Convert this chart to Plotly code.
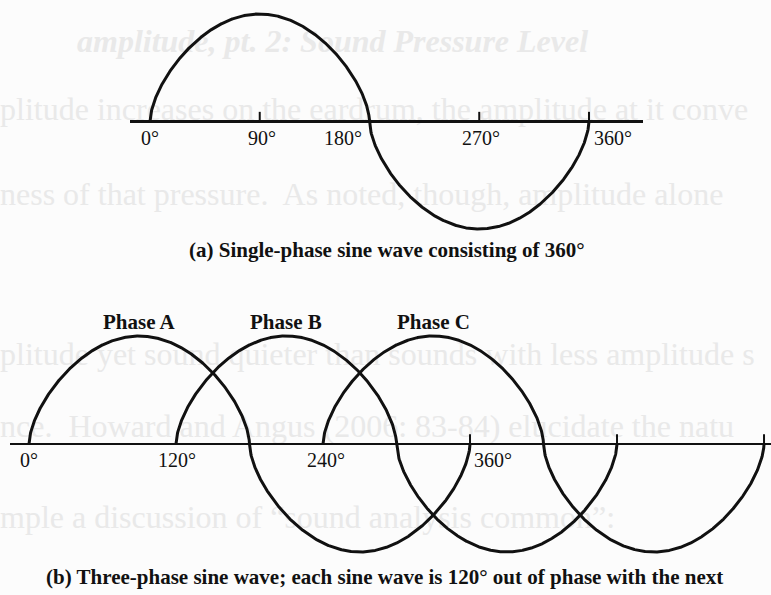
import numpy as np
import plotly.graph_objects as go

W, H = 771, 595

# ---------------- data ----------------
# Panel (a): single-phase wave, one 360 degree cycle
a_cycle_start = 0
a_cycle_span = 360
a_label_text = ["0°", "90°", "180°", "270°", "360°"]
a_label_deg = [0, 90, 180, 270, 360]
a_tick_deg = [90, 270, 360]
a_caption = "(a) Single-phase sine wave consisting of 360°"

# Panel (b): three-phase wave, phases 120 degrees apart
b_phase_names = ["Phase A", "Phase B", "Phase C"]
b_phase_offset = [0, 120, 240]
b_cycle_span = 360
b_label_text = ["0°", "120°", "240°", "360°"]
b_label_deg = [0, 120, 240, 360]
b_tick_deg = [360, 480, 600]
b_caption = "(b) Three-phase sine wave; each sine wave is 120° out of phase with the next"

# faint show-through text of the scanned page
bg_header = "amplitude, pt. 2: Sound Pressure Level"
bg_lines = [
    "plitude increases on the eardrum, the amplitude at it conve",
    "ness of that pressure.  As noted, though, amplitude alone",
    "plitude yet sound quieter than sounds with less amplitude s",
    "nce.  Howard and Angus (2006: 83-84) elucidate the natu",
    "mple a discussion of \u201csound analysis common\u201d:",
]
bg_line_y = [112, 197, 357, 429, 520]

# ---------------- styling ----------------
INK = "#111111"
FAINT = "#e9e9e9"
SERIF = "Liberation Serif, Times New Roman, serif"
CURVE_W = 3
AXIS_W = 2.5
ROUNDNESS = 0.6   # exponent giving the drawing's full, rounded half-waves

fig = go.Figure()

# background show-through text (full-page axis, drawn first => underneath)
fig.add_trace(go.Scatter(
    x=[77], y=[44], mode="text", text=[bg_header], textposition="middle right",
    textfont=dict(family=SERIF, size=32, color=FAINT, style="italic", weight="bold"),
    xaxis="x", yaxis="y", hoverinfo="skip", showlegend=False,
))
fig.add_trace(go.Scatter(
    x=[0] * len(bg_lines), y=bg_line_y, mode="text", text=bg_lines,
    textposition="middle right",
    textfont=dict(family=SERIF, size=32, color=FAINT),
    xaxis="x", yaxis="y", hoverinfo="skip", showlegend=False,
))


def wave(start, span):
    deg = np.linspace(start, start + span, 1441)
    s = np.sin(np.radians((deg - start) * 360.0 / span))
    return deg, np.sign(s) * np.abs(s) ** ROUNDNESS


# panel (a)
xa, ya = wave(a_cycle_start, a_cycle_span)
fig.add_trace(go.Scatter(x=xa, y=ya, mode="lines", line=dict(color=INK, width=CURVE_W),
                         xaxis="x2", yaxis="y2", hoverinfo="skip", showlegend=False))
tx, ty = [], []
for d in a_tick_deg:
    tx += [d, d, None]
    ty += [0, 0.09, None]
fig.add_trace(go.Scatter(x=tx, y=ty, mode="lines", line=dict(color=INK, width=2),
                         xaxis="x2", yaxis="y2", hoverinfo="skip", showlegend=False))

# panel (b)
for name, off in zip(b_phase_names, b_phase_offset):
    xb, yb = wave(off, b_cycle_span)
    fig.add_trace(go.Scatter(x=xb, y=yb, mode="lines", name=name,
                             line=dict(color=INK, width=CURVE_W),
                             xaxis="x3", yaxis="y3", hoverinfo="skip", showlegend=False))
tx, ty = [], []
for d in b_tick_deg:
    tx += [d, d, None]
    ty += [0, 0.09, None]
fig.add_trace(go.Scatter(x=tx, y=ty, mode="lines", line=dict(color=INK, width=2),
                         xaxis="x3", yaxis="y3", hoverinfo="skip", showlegend=False))

annotations = []
a_anchor = ["center", "center", "right", "center", "left"]
a_shift = [0, 2, -5, 2, 3]
for t, d, anc, sh in zip(a_label_text, a_label_deg, a_anchor, a_shift):
    annotations.append(dict(x=d, y=0, xref="x2", yref="y2", text=t, showarrow=False,
                            xanchor=anc, yanchor="middle", xshift=sh, yshift=-16,
                            font=dict(family=SERIF, size=20, color=INK)))
b_anchor = ["center", "center", "center", "left"]
b_shift = [0, 1, 3, 2]
for t, d, anc, sh in zip(b_label_text, b_label_deg, b_anchor, b_shift):
    annotations.append(dict(x=d, y=0, xref="x3", yref="y3", text=t, showarrow=False,
                            xanchor=anc, yanchor="middle", xshift=sh, yshift=-16,
                            font=dict(family=SERIF, size=20, color=INK)))
for name, off in zip(b_phase_names, b_phase_offset):
    annotations.append(dict(x=off + b_cycle_span / 4, y=1, xref="x3", yref="y3",
                            text="<b>" + name + "</b>",
                            showarrow=False, xanchor="center", yanchor="middle", yshift=14,
                            font=dict(family=SERIF, size=21, color=INK)))
annotations.append(dict(x=386.5 / W, y=(H - 250) / H, xref="paper", yref="paper",
                        text="<b>" + a_caption + "</b>", showarrow=False,
                        xanchor="center", yanchor="middle",
                        font=dict(family=SERIF, size=21, color=INK)))
annotations.append(dict(x=384 / W, y=(H - 577) / H, xref="paper", yref="paper",
                        text="<b>" + b_caption + "</b>", showarrow=False,
                        xanchor="center", yanchor="middle",
                        font=dict(family=SERIF, size=21, color=INK)))

hidden = dict(visible=False)
panel_y = dict(visible=True, showgrid=False, showticklabels=False, ticks="", showline=False,
               zeroline=True, zerolinecolor=INK, zerolinewidth=AXIS_W)
panel_x = dict(visible=False, showgrid=False, zeroline=False)

fig.update_layout(
    width=W, height=H, autosize=False,
    margin=dict(l=0, r=0, t=0, b=0, pad=0),
    paper_bgcolor="#fcfcfc", plot_bgcolor="rgba(0,0,0,0)",
    showlegend=False,
    xaxis=dict(domain=[0, 1], range=[0, W], **hidden),
    yaxis=dict(domain=[0, 1], range=[H, 0], **hidden),
    xaxis2=dict(domain=[130 / W, 643 / W], range=[-16.4, 404.3], anchor="y2", **panel_x),
    yaxis2=dict(domain=[0.5934, 0.99815], range=[-1.12, 1.12], anchor="x2", **panel_y),
    xaxis3=dict(domain=[10 / W, 1], range=[-15.5, 605.7], anchor="y3", **panel_x),
    yaxis3=dict(domain=[0.036, 0.4716], range=[-1.2, 1.2], anchor="x3", **panel_y),
    annotations=annotations,
)

fig.write_html(
    "out.html",
    config={"displayModeBar": False, "staticPlot": True},
    post_script="document.body.style.margin='0';document.body.style.padding='0';"
                "document.body.style.overflow='hidden';",
)
